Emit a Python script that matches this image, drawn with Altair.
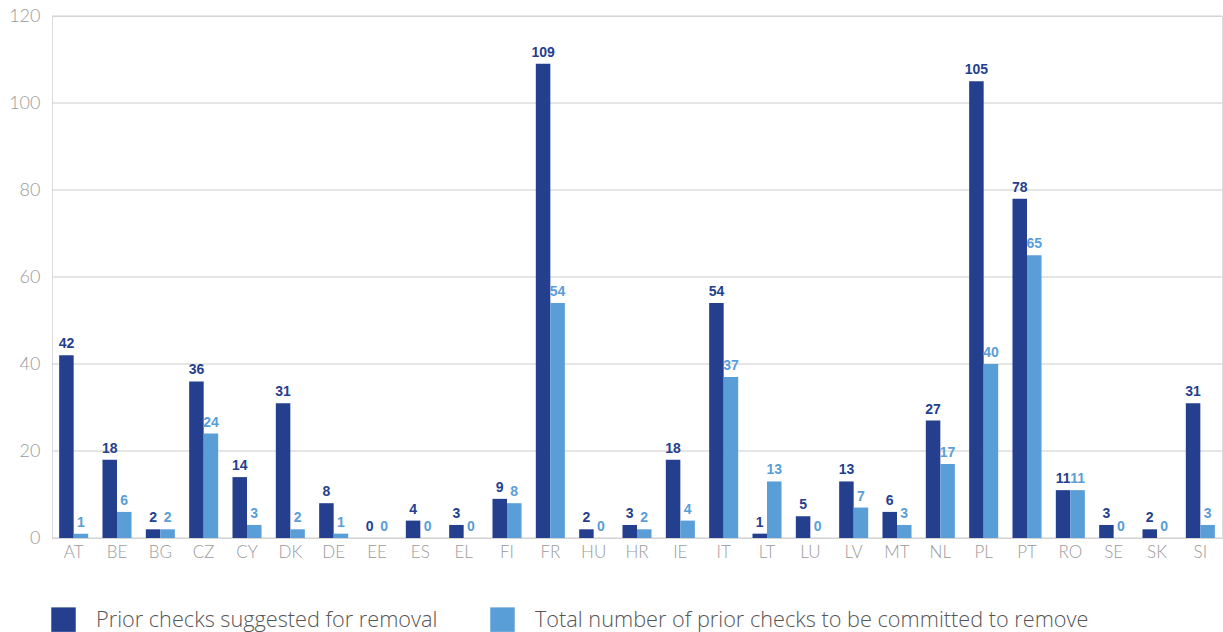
import altair as alt
import pandas as pd

countries = ["AT","BE","BG","CZ","CY","DK","DE","EE","ES","EL","FI","FR","HU","HR","IE","IT","LT","LU","LV","MT","NL","PL","PT","RO","SE","SK","SI"]
suggested = [42,18,2,36,14,31,8,0,4,3,9,109,2,3,18,54,1,5,13,6,27,105,78,11,3,2,31]
committed = [1,6,2,24,3,2,1,0,0,0,8,54,0,2,4,37,13,0,7,3,17,40,65,11,0,0,3]
y_ticks = [0, 20, 40, 60, 80, 100, 120]

s1 = "Prior checks suggested for removal"
s2 = "Total number of prior checks to be committed to remove"
dark = "#253f8f"
light = "#5a9ed8"

rows = []
for c, a, b in zip(countries, suggested, committed):
    rows.append({"country": c, "series": s1, "value": a})
    rows.append({"country": c, "series": s2, "value": b})
df = pd.DataFrame(rows)
grid_df = pd.DataFrame({"value": y_ticks})

x = alt.X("country:N", sort=countries, title=None,
          scale=alt.Scale(paddingInner=0.33, paddingOuter=0.165),
          axis=alt.Axis(labelAngle=0, labelFont="Lato", labelFontWeight=300, labelFontSize=17,
                        labelColor="#9a9a9a", ticks=False, domain=False, labelPadding=6, grid=False))
xo = alt.XOffset("series:N", sort=[s1, s2], scale=alt.Scale(paddingInner=0, paddingOuter=0))
y = alt.Y("value:Q", title=None,
          scale=alt.Scale(domain=[0, 120], nice=False),
          axis=alt.Axis(values=y_ticks, labelFont="Lato", labelFontWeight=300,
                        labelFontSize=18, labelColor="#9a9a9a", ticks=False, domain=False,
                        labelPadding=12, grid=False))
color = alt.Color("series:N", sort=[s1, s2],
                  scale=alt.Scale(domain=[s1, s2], range=[dark, light]),
                  legend=alt.Legend(title=None, orient="none", legendX=-1, legendY=591,
                                    direction="horizontal", symbolType="square", symbolSize=600,
                                    symbolStrokeWidth=0, labelFont="Open Sans", labelFontWeight=300,
                                    labelFontSize=21.7, labelColor="#555555", columnPadding=52,
                                    labelOffset=20, labelLimit=700, padding=0))

grid = alt.Chart(grid_df).mark_rule(color="#cccccc", strokeWidth=1).encode(y=y)
bars = alt.Chart(df).mark_bar().encode(x=x, xOffset=xo, y=y, color=color)
labels = alt.Chart(df).mark_text(baseline="bottom", dy=-4, font="Liberation Sans",
                                 fontWeight="bold", fontSize=14).encode(
    x=x, xOffset=xo, y=y, text="value:Q",
    color=alt.Color("series:N", scale=alt.Scale(domain=[s1, s2], range=[dark, light]), legend=None))

chart = alt.layer(grid, bars, labels).properties(
    width=1170, height=522,
    padding={"left": 52, "top": 16, "right": 1, "bottom": 94},
    autosize=alt.AutoSizeParams(type="none"),
).configure_view(strokeWidth=0).configure(background="white"
).configure_axis(domain=False, ticks=False)

chart.save("out.html", embed_options={"renderer": "svg", "actions": False})
